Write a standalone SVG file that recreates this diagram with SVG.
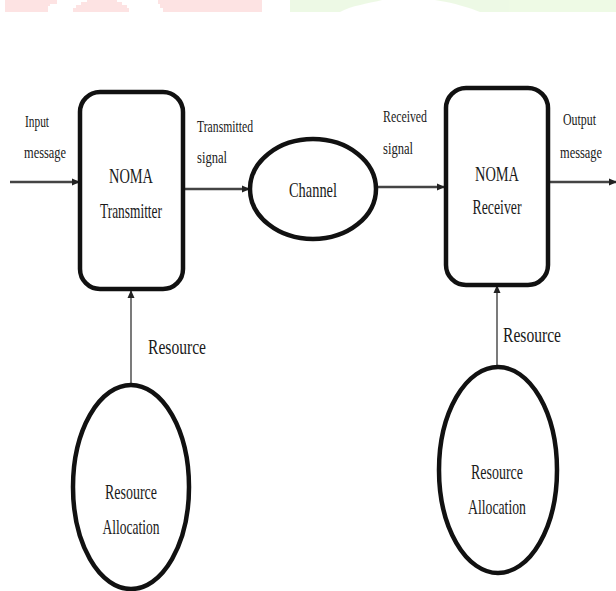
<svg xmlns="http://www.w3.org/2000/svg" width="616" height="591" viewBox="0 0 616 591">
<style>
text{font-family:"Liberation Serif","Times New Roman",serif;fill:#1a1a1a;text-anchor:middle}
.big{font-size:21px}
.lab{font-size:16px;text-anchor:start}
.box{fill:#fff;stroke:#111;stroke-width:4.5}
.line{stroke:#444;stroke-width:2.5;fill:none}
.thin{stroke:#333;stroke-width:1.3;fill:none}
</style>
<defs>
<marker id="ah" markerWidth="8" markerHeight="8" refX="7" refY="4" orient="auto" markerUnits="userSpaceOnUse">
<path d="M0,0.5 L8,4 L0,7.5 Z" fill="#222"/>
</marker>
</defs>
<g id="watermark" opacity="0.5">
<path d="M5,0 H57 V4 H50 V6 H48 V12 H5 Z" fill="#fcc8c8"/>
<path d="M87,0 H117 V2 H122 V5 H127 V8 H129 V12 H73 V8 H76 V5 H81 V2 H87 Z" fill="#fcc8c8"/>
<path d="M158,0 H262 V12 H163 V8 H160 V4 H158 Z" fill="#fcc8c8"/>
<path d="M290,0 H382 C370,3 350,6 340,12 H290 Z" fill="#ddf5cc"/>
<path d="M435,0 H616 V12 H480 C470,8 455,3 435,0 Z" fill="#ddf5cc"/>
</g>
<g id="connectors">
<line class="line" x1="10" y1="182" x2="79" y2="182" marker-end="url(#ah)"/>
<line class="line" x1="183" y1="189" x2="249" y2="189" marker-end="url(#ah)"/>
<line class="line" x1="377" y1="187" x2="444" y2="187" marker-end="url(#ah)"/>
<line class="line" x1="548" y1="182" x2="616" y2="182" marker-end="url(#ah)"/>
<line class="thin" x1="131" y1="385" x2="131" y2="291" marker-end="url(#ah)"/>
<line class="thin" x1="497" y1="367" x2="497" y2="286" marker-end="url(#ah)"/>
<text class="lab" x="25" y="127" textLength="24" lengthAdjust="spacingAndGlyphs">Input</text>
<text class="lab" x="24" y="158" textLength="42" lengthAdjust="spacingAndGlyphs">message</text>
<text class="lab" x="197" y="132" textLength="56" lengthAdjust="spacingAndGlyphs">Transmitted</text>
<text class="lab" x="197" y="163" textLength="30" lengthAdjust="spacingAndGlyphs">signal</text>
<text class="lab" x="383" y="122" textLength="44" lengthAdjust="spacingAndGlyphs">Received</text>
<text class="lab" x="383" y="154" textLength="30" lengthAdjust="spacingAndGlyphs">signal</text>
<text class="lab" x="563" y="125" textLength="33" lengthAdjust="spacingAndGlyphs">Output</text>
<text class="lab" x="560" y="158" textLength="42" lengthAdjust="spacingAndGlyphs">message</text>
<text class="big" x="148" y="354" style="text-anchor:start" textLength="58" lengthAdjust="spacingAndGlyphs">Resource</text>
<text class="big" x="503" y="342" style="text-anchor:start" textLength="58" lengthAdjust="spacingAndGlyphs">Resource</text>
</g>
<g id="transmitter">
<rect class="box" x="80" y="92" width="103" height="197" rx="20"/>
<text class="big" x="131" y="183" textLength="44" lengthAdjust="spacingAndGlyphs">NOMA</text>
<text class="big" x="131" y="218" textLength="62" lengthAdjust="spacingAndGlyphs">Transmitter</text>
</g>
<g id="channel">
<ellipse class="box" cx="313" cy="189" rx="63" ry="50"/>
<text class="big" x="313" y="197" textLength="48" lengthAdjust="spacingAndGlyphs">Channel</text>
</g>
<g id="receiver">
<rect class="box" x="446" y="88" width="102" height="197" rx="20"/>
<text class="big" x="497" y="181" textLength="44" lengthAdjust="spacingAndGlyphs">NOMA</text>
<text class="big" x="497" y="214" textLength="49" lengthAdjust="spacingAndGlyphs">Receiver</text>
</g>
<g id="alloc-left">
<ellipse class="box" cx="131" cy="487" rx="58" ry="102"/>
<text class="big" x="131" y="499" textLength="52" lengthAdjust="spacingAndGlyphs">Resource</text>
<text class="big" x="131" y="534" textLength="57" lengthAdjust="spacingAndGlyphs">Allocation</text>
</g>
<g id="alloc-right">
<ellipse class="box" cx="498" cy="470" rx="59" ry="103"/>
<text class="big" x="497" y="479" textLength="52" lengthAdjust="spacingAndGlyphs">Resource</text>
<text class="big" x="497" y="514" textLength="58" lengthAdjust="spacingAndGlyphs">Allocation</text>
</g>
</svg>
